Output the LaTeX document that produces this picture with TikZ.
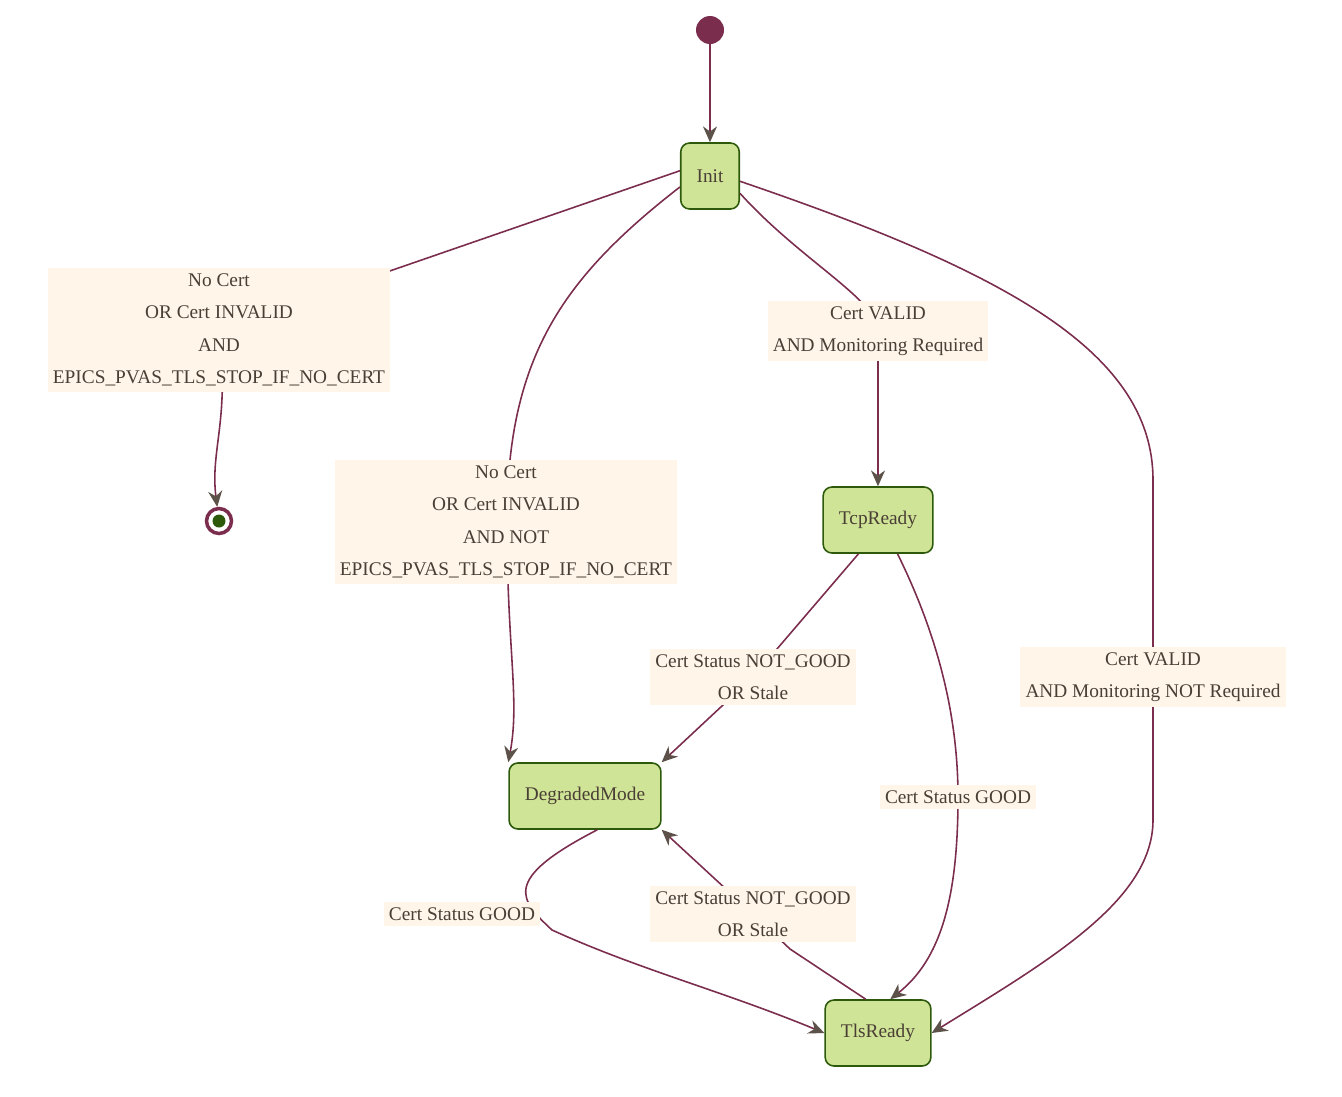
\documentclass[tikz,border=0pt]{standalone}
\usepackage{fontspec}
\setmainfont{Liberation Serif}
\usetikzlibrary{arrows.meta}
\definecolor{edge}{HTML}{7B2D4E}
\definecolor{sfill}{HTML}{D0E497}
\definecolor{sline}{HTML}{2D5A0A}
\definecolor{lfill}{HTML}{FFF5E8}
\definecolor{txt}{HTML}{4A3F35}
\begin{document}
\begin{tikzpicture}[x=0.02cm,y=-0.02cm,
 st/.style={draw=sline,fill=sfill,rounded corners=5pt,line width=0.9pt,minimum height=1.32cm,inner xsep=9pt,text=txt,font=\fontsize{11}{13}\selectfont},
 lb/.style={fill=lfill,text=txt,align=center,font=\fontsize{11}{18.5}\selectfont,inner sep=3pt},
 e/.style={draw=edge,line width=0.9pt,-{Stealth[length=9pt,width=8pt,color=txt!90]}},
 ln/.style={draw=edge,line width=0.9pt}]
\useasboundingbox (0,0) rectangle (1342,1096);
\node[circle,fill=edge,minimum size=0.56cm,inner sep=0] (s) at (710,30) {};
\node[st] (init) at (710,176) {Init};
\node[circle,draw=edge,line width=2pt,fill=white,minimum size=0.5cm,inner sep=0] (end) at (219,521) {};
\fill[sline] (end) circle (0.13cm);
\node[st] (tcp) at (878,520) {TcpReady};
\node[st] (deg) at (585,796) {DegradedMode};
\node[st] (tls) at (878,1033) {TlsReady};
% edges
\draw[e] (s) -- (init);
\draw[e] (init.170) -- (219,330) .. controls (230,420) and (210,450) .. (end);
\draw[e] (init.200) .. controls (560,280) and (507,360) .. (507,522) .. controls (507,650) and (520,700) .. (deg.north west);
\coordinate (d1) at (560,762);
\draw[e] (init.-30) .. controls (800,260) and (878,300) .. (878,331) .. controls (878,400) and (878,440) .. (tcp);
\draw[e] (init.-10) .. controls (1000,270) and (1153,350) .. (1153,480) -- (1153,820) .. controls (1153,900) and (1050,960) .. (tls.east);
\draw[e] (tcp.-120) -- (753,677) -- (deg.north east);
\draw[e] (tcp.-60) .. controls (940,640) and (958,720) .. (958,797) .. controls (958,900) and (940,960) .. (tls.70);
\draw[e] (deg.-70) .. controls (500,880) and (520,900) .. (552,930) .. controls (640,970) and (720,990) .. (tls.west);
\draw[e] (tls.110) -- (790,949) -- (753,914) -- (deg.south east);
% labels
\node[lb] at (219,330) {No Cert\\OR Cert INVALID\\AND\\EPICS\_PVAS\_TLS\_STOP\_IF\_NO\_CERT};
\node[lb] at (506,522) {No Cert\\OR Cert INVALID\\AND NOT\\EPICS\_PVAS\_TLS\_STOP\_IF\_NO\_CERT};
\node[lb] at (878,331) {Cert VALID\\AND Monitoring Required};
\node[lb] at (753,677) {Cert Status NOT\_GOOD\\OR Stale};
\node[lb] at (1153,677) {Cert VALID\\AND Monitoring NOT Required};
\node[lb] at (958,797) {Cert Status GOOD};
\node[lb] at (462,914) {Cert Status GOOD};
\node[lb] at (753,914) {Cert Status NOT\_GOOD\\OR Stale};
\end{tikzpicture}
\end{document}
